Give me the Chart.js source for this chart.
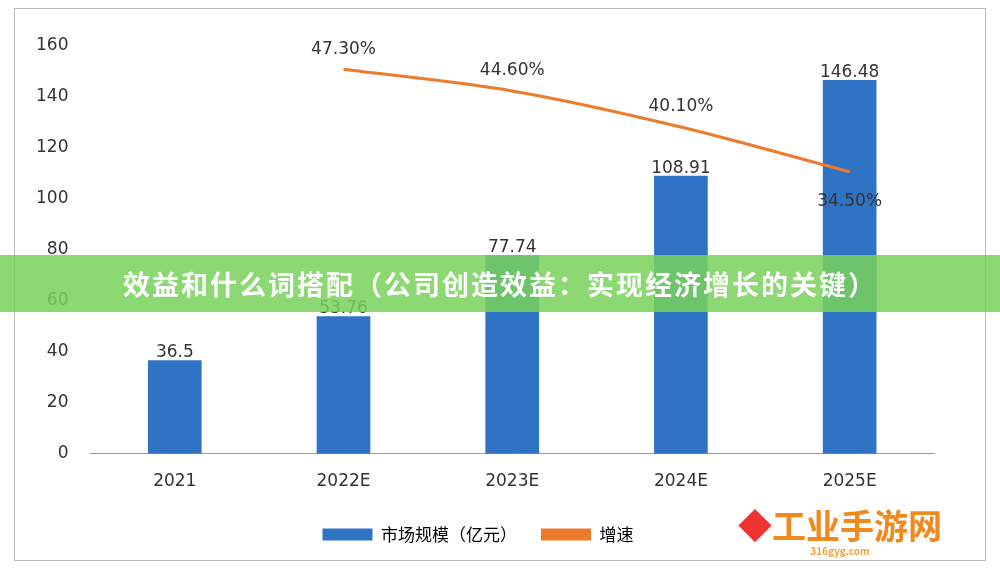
<!DOCTYPE html>
<html><head><meta charset="utf-8">
<script src="https://cdn.jsdelivr.net/npm/chart.js@4"></script>
<style>
body{margin:0;background:#fff;font-family:"Noto Sans CJK SC",sans-serif}
#wrap{position:relative;width:1000px;height:569px;overflow:hidden}
#frame{position:absolute;left:14px;top:8px;width:972px;height:553px;border:1px solid #bbb;box-sizing:border-box}
#banner{position:absolute;left:0;top:255px;width:1000px;height:57px;background:rgba(120,210,90,0.85);color:#fff;font:bold 27px "Noto Sans CJK SC";display:flex;align-items:center;justify-content:center;letter-spacing:2px}
#logo{position:absolute;left:738px;top:500px;font:bold 34px "Noto Sans CJK SC";color:#f08a1c}
#logo small{display:block;font-size:10px;color:#f0a040;text-align:center;margin-top:-6px}
</style></head><body>
<div id="wrap">
<div id="frame"></div>
<canvas id="c" width="1000" height="569" style="position:absolute;left:0;top:0"></canvas>
<div id="banner">效益和什么词搭配（公司创造效益：实现经济增长的关键）</div>
<div id="logo"><span style="color:#e33">◆</span>工业手游网<small>316gyg.com</small></div>
</div>
<script>
const categories = ['2021', '2022E', '2023E', '2024E', '2025E'];
const marketSize = [36.5, 53.76, 77.74, 108.91, 146.48];
const growth = [null, 47.30, 44.60, 40.10, 34.50];
const yTicks = [0, 20, 40, 60, 80, 100, 120, 140, 160];

const labelPlugin = {
  id: 'labels',
  afterDatasetsDraw(chart) {
    const ctx = chart.ctx;
    ctx.save();
    ctx.font = '17px "DejaVu Sans"';
    ctx.fillStyle = '#333';
    ctx.textAlign = 'center';
    chart.getDatasetMeta(0).data.forEach((b, i) => {
      ctx.fillText(String(marketSize[i]), b.x, b.y - 8);
    });
    chart.getDatasetMeta(1).data.forEach((p, i) => {
      if (growth[i] == null) return;
      const t = growth[i].toFixed(2) + '%';
      if (i === 4) ctx.fillText(t, p.x, p.y + 30);
      else ctx.fillText(t, p.x, p.y - 20);
    });
    ctx.restore();
  }
};

new Chart(document.getElementById('c'), {
  data: {
    labels: categories,
    datasets: [
      { type: 'bar', label: '市场规模（亿元）', data: marketSize, backgroundColor: '#2f73c4', barThickness: 53, order: 2, yAxisID: 'y' },
      { type: 'line', label: '增速', data: growth, borderColor: '#ee7a2e', borderWidth: 3, pointRadius: 0, tension: 0.3, order: 1, yAxisID: 'y1' }
    ]
  },
  options: {
    responsive: false,
    animation: false,
    layout: { padding: { left: 22, right: 66, top: 46, bottom: 16 } },
    plugins: {
      legend: {
        position: 'bottom',
        labels: {
          font: { size: 17, family: '"Noto Sans CJK SC"' }, color: '#333',
          boxWidth: 50, boxHeight: 12, padding: 24,
          generateLabels(chart) {
            return [
              { text: '市场规模（亿元）', fillStyle: '#2f73c4', strokeStyle: '#2f73c4', lineWidth: 0, datasetIndex: 0 },
              { text: '增速', fillStyle: '#ee7a2e', strokeStyle: '#ee7a2e', lineWidth: 0, datasetIndex: 1 }
            ];
          }
        }
      },
      tooltip: { enabled: false }
    },
    scales: {
      x: {
        grid: { display: false }, border: { color: '#999' },
        ticks: { color: '#333', font: { size: 17, family: '"DejaVu Sans"' }, padding: 10 }
      },
      y: {
        min: 0, max: 160,
        afterBuildTicks(ax) { ax.ticks = yTicks.map(v => ({ value: v })); },
        grid: { display: false }, border: { display: false },
        ticks: { color: '#333', font: { size: 17, family: '"DejaVu Sans"' }, padding: 14 }
      },
      y1: { display: false, min: -0.63, max: 50.2 }
    }
  },
  plugins: [labelPlugin]
});
</script>
</body></html>
